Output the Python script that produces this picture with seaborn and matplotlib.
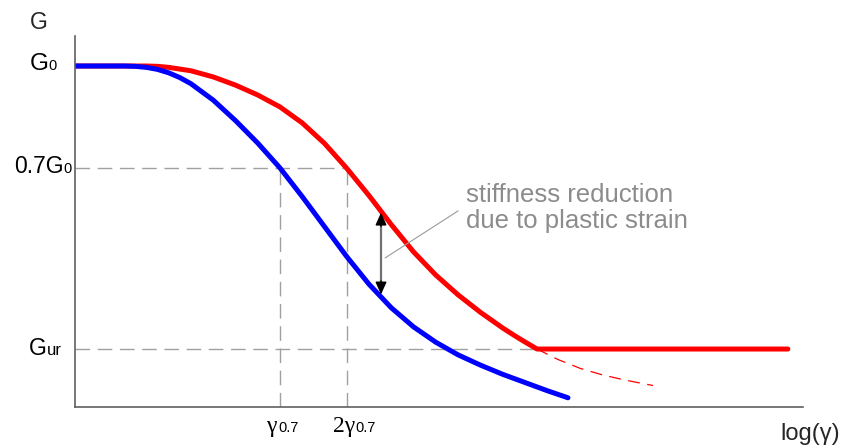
import numpy as np
import seaborn as sns
import matplotlib.pyplot as plt

# x = log10(gamma / gamma_0.7), y = G / G0
blue_x = [-0.921, -0.8, -0.7, -0.65, -0.6, -0.55, -0.5, -0.45, -0.4, -0.3, -0.2,
          -0.1, 0.0, 0.1, 0.2, 0.3, 0.4, 0.5, 0.6, 0.7, 0.8, 0.9, 1.0, 1.1,
          1.2, 1.294]
blue_g = [1.000, 1.000, 1.000, 0.999, 0.996, 0.990, 0.980, 0.966, 0.948, 0.900,
          0.840, 0.774, 0.701, 0.617, 0.529, 0.441, 0.360, 0.291, 0.235, 0.190,
          0.153, 0.123, 0.096, 0.072, 0.048, 0.027]

red_x = [-0.921, -0.8, -0.7, -0.6, -0.55, -0.5, -0.4, -0.3, -0.2, -0.1, 0.0,
         0.1, 0.2, 0.3, 0.4, 0.5, 0.6, 0.7, 0.8, 0.9, 1.0, 1.05, 1.1, 1.155, 2.282]
red_g = [1.000, 1.000, 1.000, 1.000, 0.999, 0.996, 0.986, 0.968, 0.944, 0.915,
         0.880, 0.833, 0.773, 0.700, 0.620, 0.535, 0.455, 0.387, 0.329, 0.278,
         0.232, 0.211, 0.191, 0.170, 0.170]

# continuation of the red curve below the cut-off
ext_x = [1.155, 1.25, 1.35, 1.45, 1.55, 1.676]
ext_g = [0.170, 0.139, 0.113, 0.094, 0.079, 0.063]

G_UR = 0.17
G_07 = 0.7
X_G07 = 0.0
X_2G07 = np.log10(2)
X_MIN, X_MAX = -0.921, 2.350
Y_MAX = 1.088

ARROW_X = 0.454
ARROW_TOP = 0.570
ARROW_BOT = 0.330

sns.set_style('white')
plt.rcParams['font.family'] = ['Liberation Sans', 'DejaVu Sans']

fig = plt.figure(figsize=(8.42, 4.48), dpi=100)
ax = fig.add_axes([75 / 842, 41 / 448, 728 / 842, 371 / 448])

guide = dict(colors='#a0a0a0', linewidth=1.0, linestyles=(0, (10.5, 5.5)))
ax.hlines([G_07], X_MIN, X_2G07, **guide)
ax.hlines([G_UR], X_MIN, ext_x[0], **guide)
ax.vlines([X_G07, X_2G07], 0, G_07, **guide)

sns.lineplot(x=ext_x, y=ext_g, color='red', linewidth=0.9,
             sort=False, estimator=None, ax=ax)
ax.lines[-1].set_dashes((9.5, 6))
sns.lineplot(x=red_x, y=red_g, color='#ff0000', linewidth=3.6, sort=False,
             estimator=None, ax=ax, solid_capstyle='round', solid_joinstyle='round')
sns.lineplot(x=blue_x, y=blue_g, color='#0000ff', linewidth=3.6, sort=False,
             estimator=None, ax=ax, solid_capstyle='round', solid_joinstyle='round')

# stiffness reduction arrow and note
ax.plot([ARROW_X, ARROW_X], [ARROW_BOT + 0.02, ARROW_TOP - 0.02],
        color='#707070', lw=1.6)
head = dict(arrowstyle='-|>,head_length=0.38,head_width=0.17', mutation_scale=20,
            color='black', lw=1.0, shrinkA=0, shrinkB=0)
ax.annotate('', xy=(ARROW_X, ARROW_TOP), xytext=(ARROW_X, ARROW_TOP - 0.04),
            arrowprops=head)
ax.annotate('', xy=(ARROW_X, ARROW_BOT), xytext=(ARROW_X, ARROW_BOT + 0.04),
            arrowprops=head)
ax.plot([0.472, 0.800], [0.437, 0.575], color='#9a9a9a', lw=0.8)
ax.text(0.836, 0.601, 'stiffness reduction', ha='left', va='baseline',
        fontsize=18.5, color='#8c8c8c')
ax.text(0.836, 0.525, 'due to plastic strain', ha='left', va='baseline',
        fontsize=18.5, color='#8c8c8c')

ax.set_xlim(X_MIN, X_MAX)
ax.set_ylim(0, Y_MAX)
ax.set_xticks([])
ax.set_yticks([])
ax.set_xlabel('')
ax.set_ylabel('')
sns.despine(ax=ax)
for s in ['left', 'bottom']:
    ax.spines[s].set_color('#606060')
    ax.spines[s].set_linewidth(1.2)


def put(text, xy, off_px, size, ha='right', family=None, xycoords='data'):
    kw = dict(xy=xy, xycoords=xycoords, textcoords='offset points',
              xytext=(off_px[0] * 0.72, off_px[1] * 0.72), ha=ha,
              va='baseline', fontsize=size, color='black', annotation_clip=False)
    if family:
        kw['family'] = family
    ax.annotate(text, **kw)


# y labels
yax = ('axes fraction', 'data')
put('G', (0, 1.0), (-26, -4), 17.5, xycoords=yax)
put('0', (0, 1.0), (-18, -4), 10.5, xycoords=yax)
put('0.7G', (0, G_07), (-11, -5), 16.5, xycoords=yax)
put('0', (0, G_07), (-3, -5), 10.5, xycoords=yax)
put('G', (0, G_UR), (-28, -6), 16.5, xycoords=yax)
put('ur', (0, G_UR), (-13, -6), 12, xycoords=yax)

# x labels
serif = ['Liberation Serif', 'DejaVu Serif']
put('γ', (X_G07, 0), (-14, -25), 17, ha='left', family=serif)
put('0.7', (X_G07, 0), (-2, -25), 10.5, ha='left')
put('2γ', (X_2G07, 0), (-14, -25), 17, ha='left', family=serif)
put('0.7', (X_2G07, 0), (8, -25), 10.5, ha='left')

fig.text(39 / 842, 1 - 29 / 448, 'G', ha='center', va='baseline', fontsize=16.5)
fig.text(840 / 842, 1 - 440 / 448, 'log(γ)', ha='right', va='baseline', fontsize=17)

fig.savefig('out.png', dpi=100)
